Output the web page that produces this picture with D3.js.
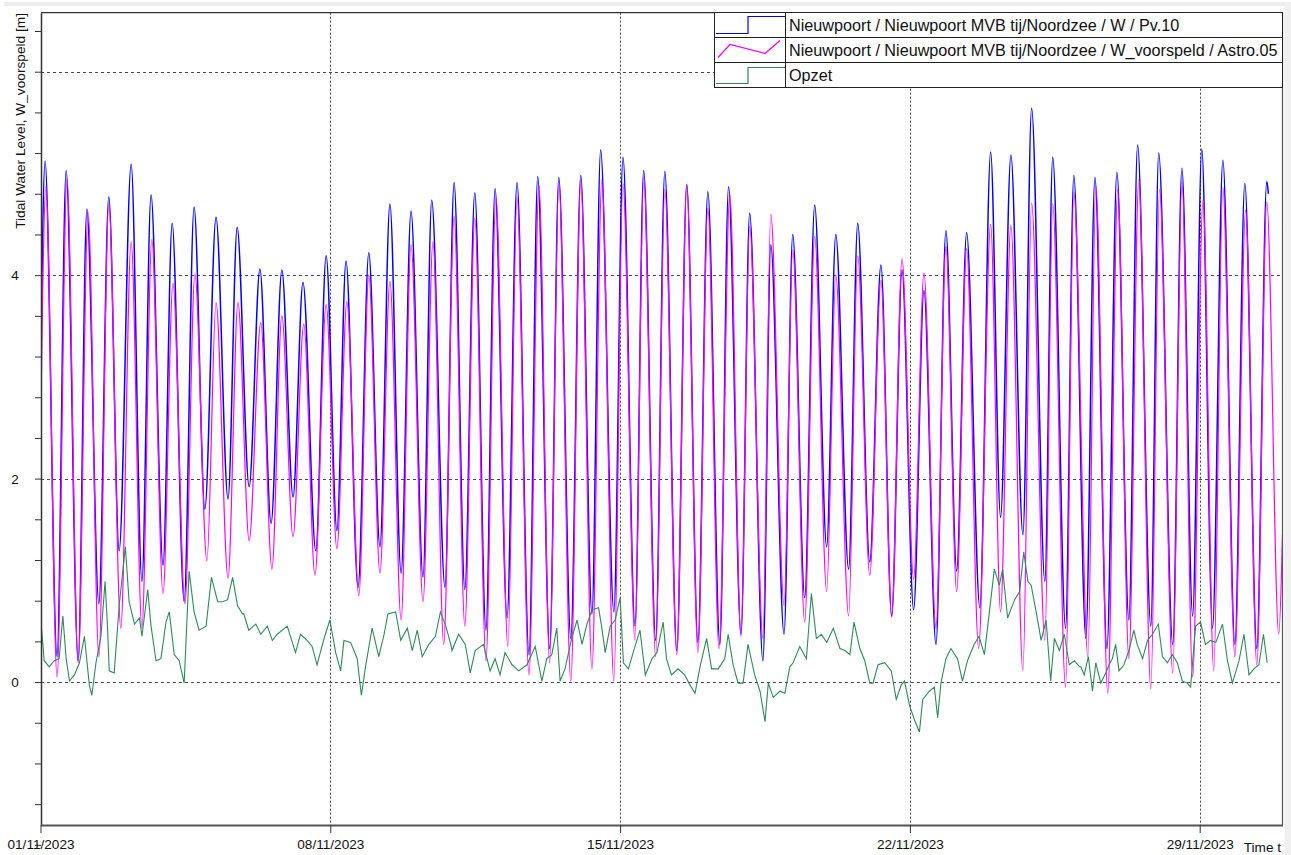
<!DOCTYPE html>
<html>
<head>
<meta charset="utf-8">
<script src="https://cdn.jsdelivr.net/npm/d3@7"></script>
<style>
  html, body { margin: 0; padding: 0; background: #ffffff; }
  svg { display: block; font-family: "Liberation Sans", Arial, sans-serif; }
</style>
</head>
<body>
<svg id="chart" width="1291" height="855"></svg>
<script>
// Time origin of all series (days are counted from this moment, UTC)
const startDate = "2023-11-01T00:00:00Z";
const endDate = "2023-12-01T00:00:00Z";

// Measured water level W (Pv.10): successive high / low waters [days, m]
const wDays = [0.00, 0.11, 0.40, 0.62, 0.91, 1.12, 1.41, 1.65, 1.90, 2.19, 2.45, 2.67, 2.96, 3.18, 3.47, 3.71, 3.97, 4.24, 4.53, 4.75,
  5.04, 5.30, 5.57, 5.83, 6.10, 6.34, 6.65, 6.90, 7.16, 7.38, 7.67, 7.93, 8.20, 8.44, 8.71, 8.95, 9.24, 9.45, 9.77, 9.99,
  10.25, 10.49, 10.76, 10.98, 11.27, 11.51, 11.80, 12.01, 12.30, 12.52, 12.81, 13.05, 13.32, 13.53, 13.85, 14.07, 14.36, 14.57, 14.86, 15.08,
  15.37, 15.61, 15.88, 16.12, 16.41, 16.62, 16.92, 17.13, 17.45, 17.64, 17.96, 18.17, 18.46, 18.70, 18.99, 19.21, 19.52, 19.74, 20.03, 20.30,
  20.56, 20.81, 21.09, 21.34, 21.63, 21.87, 22.13, 22.37, 22.69, 22.95, 23.19, 23.44, 23.73, 23.94, 24.26, 24.45, 24.76, 24.96, 25.25, 25.47,
  25.76, 26.00, 26.29, 26.50, 26.82, 27.01, 27.35, 27.57, 27.83, 28.05, 28.31, 28.56, 28.85, 29.09, 29.38, 29.62, 29.66];
const wLevels = [2.90, 5.12, 0.25, 5.03, 0.21, 4.65, 0.77, 4.77, 1.29, 5.09, 0.99, 4.79, 1.15, 4.51, 0.79, 4.67, 1.70, 4.57, 1.80, 4.47,
  1.92, 4.06, 1.56, 4.05, 1.82, 3.93, 1.29, 4.19, 1.49, 4.14, 0.93, 4.22, 1.33, 4.70, 1.07, 4.63, 1.03, 4.74, 0.93, 4.91,
  0.91, 4.81, 0.51, 4.85, 0.63, 4.91, 0.27, 4.97, 0.33, 4.96, 0.43, 4.98, 0.67, 5.23, 0.69, 5.16, 0.55, 5.03, 0.41, 5.02,
  0.31, 4.89, 0.39, 4.82, 0.37, 4.87, 0.47, 4.61, 0.21, 4.30, 0.47, 4.40, 0.83, 4.69, 1.33, 4.40, 1.11, 4.51, 1.18, 4.10,
  0.65, 4.05, 0.71, 3.85, 0.37, 4.44, 1.09, 4.42, 0.73, 5.21, 1.62, 5.18, 1.45, 5.64, 0.99, 5.16, 0.53, 4.98, 0.43, 4.96,
  0.33, 5.01, 0.61, 5.28, 0.55, 5.20, 0.37, 5.05, 0.65, 5.24, 0.53, 5.13, 0.37, 4.90, 0.33, 4.92, 4.80];

// Predicted astronomical tide W_voorspeld (Astro.05): high / low waters [days, m]
const astroDays = [0.00, 0.13, 0.40, 0.64, 0.91, 1.15, 1.41, 1.65, 1.94, 2.19, 2.45, 2.69, 2.96, 3.20, 3.49, 3.73, 4.02, 4.24, 4.53, 4.77,
  5.04, 5.32, 5.59, 5.83, 6.10, 6.36, 6.63, 6.90, 7.16, 7.40, 7.69, 7.93, 8.20, 8.44, 8.71, 8.95, 9.24, 9.48, 9.74, 9.99,
  10.25, 10.49, 10.76, 11.00, 11.29, 11.51, 11.80, 12.04, 12.30, 12.52, 12.81, 13.05, 13.32, 13.56, 13.85, 14.07, 14.36, 14.57, 14.86, 15.08,
  15.37, 15.61, 15.88, 16.12, 16.39, 16.65, 16.92, 17.13, 17.45, 17.64, 17.96, 18.17, 18.46, 18.70, 18.99, 19.21, 19.52, 19.74, 20.03, 20.30,
  20.56, 20.81, 21.09, 21.34, 21.63, 21.87, 22.13, 22.37, 22.66, 22.95, 23.19, 23.44, 23.73, 23.94, 24.26, 24.45, 24.76, 24.96, 25.30, 25.49,
  25.78, 26.02, 26.29, 26.53, 26.82, 27.03, 27.35, 27.57, 27.83, 28.08, 28.34, 28.56, 28.85, 29.11, 29.38, 29.62, 29.91, 30.00];
const astroLevels = [2.40, 4.87, 0.05, 4.94, 0.19, 4.62, 0.25, 4.70, 0.53, 4.33, 0.53, 4.35, 0.87, 3.92, 0.77, 4.01, 1.19, 3.73, 1.02, 3.73,
  1.39, 3.53, 1.11, 3.60, 1.43, 3.52, 1.05, 3.71, 1.31, 3.74, 0.85, 4.00, 1.07, 3.94, 0.61, 4.30, 0.79, 4.33, 0.37, 4.58,
  0.55, 4.56, 0.21, 4.76, 0.35, 4.77, 0.07, 4.88, 0.19, 4.91, 0.01, 4.93, 0.13, 4.94, 0.01, 4.90, 0.41, 4.96, 0.25, 4.84,
  0.27, 4.89, 0.29, 4.66, 0.33, 4.80, 0.45, 4.48, 0.43, 4.60, 0.75, 4.25, 0.59, 4.38, 0.89, 4.00, 0.65, 4.19, 1.05, 3.95,
  0.64, 4.16, 1.01, 4.02, 0.53, 4.28, 0.89, 4.26, 0.33, 4.50, 0.69, 4.49, 0.11, 4.71, 0.41, 4.70, -0.05, 4.82, 0.25, 4.88,
  -0.11, 4.84, 0.23, 4.94, -0.07, 4.84, 0.09, 4.92, 0.05, 4.74, 0.11, 4.86, 0.25, 4.64, 0.17, 4.72, 0.47, 1.45];

// Surge (Opzet) [days, m]
const opzetDays = [0.01, 0.09, 0.21, 0.33, 0.45, 0.54, 0.62, 0.70, 0.82, 0.94, 1.06, 1.18, 1.24, 1.34, 1.46, 1.56, 1.62, 1.66, 1.78, 1.90,
  2.05, 2.14, 2.27, 2.39, 2.45, 2.59, 2.67, 2.79, 2.91, 3.03, 3.11, 3.23, 3.35, 3.47, 3.59, 3.71, 3.83, 4.00, 4.13, 4.28,
  4.40, 4.52, 4.64, 4.76, 4.88, 4.91, 5.03, 5.20, 5.32, 5.48, 5.60, 5.72, 5.96, 6.16, 6.28, 6.44, 6.56, 6.68, 6.85, 6.99,
  7.13, 7.25, 7.33, 7.49, 7.65, 7.75, 7.85, 8.01, 8.17, 8.30, 8.39, 8.58, 8.70, 8.86, 8.98, 9.10, 9.22, 9.38, 9.54, 9.66,
  9.79, 9.91, 9.94, 10.10, 10.26, 10.38, 10.50, 10.70, 10.86, 10.98, 11.10, 11.22, 11.39, 11.55, 11.75, 11.95, 12.11, 12.23, 12.35, 12.47,
  12.55, 12.67, 12.83, 12.96, 13.08, 13.20, 13.32, 13.48, 13.56, 13.64, 13.76, 13.88, 14.00, 14.08, 14.20, 14.36, 14.48, 14.61, 14.77, 14.89,
  15.04, 15.12, 15.24, 15.40, 15.56, 15.69, 15.81, 15.93, 16.09, 16.21, 16.37, 16.53, 16.61, 16.73, 16.85, 16.97, 17.09, 17.25, 17.38, 17.50,
  17.58, 17.70, 17.86, 17.98, 18.10, 18.18, 18.34, 18.50, 18.62, 18.74, 18.86, 18.99, 19.15, 19.31, 19.43, 19.55, 19.65, 19.79, 19.91, 20.03,
  20.11, 20.23, 20.39, 20.55, 20.67, 20.79, 20.87, 20.99, 21.11, 21.23, 21.31, 21.47, 21.59, 21.67, 21.75, 21.87, 21.99, 22.15, 22.27, 22.39,
  22.55, 22.67, 22.80, 22.92, 23.04, 23.16, 23.24, 23.36, 23.53, 23.65, 23.75, 23.85, 23.93, 24.05, 24.17, 24.29, 24.40, 24.49, 24.61, 24.73,
  24.85, 24.97, 25.10, 25.13, 25.21, 25.31, 25.41, 25.49, 25.61, 25.73, 25.81, 25.89, 25.97, 26.05, 26.17, 26.29, 26.41, 26.49, 26.62, 26.74,
  26.86, 27.00, 27.10, 27.22, 27.34, 27.46, 27.58, 27.70, 27.78, 27.90, 28.02, 28.14, 28.26, 28.39, 28.55, 28.67, 28.79, 28.95, 29.07, 29.19,
  29.31, 29.43, 29.54, 29.63];
const opzetLevels = [0.59, 0.21, 0.15, 0.21, 0.23, 0.65, 0.23, 0.01, 0.07, 0.19, 0.45, -0.03, -0.13, 0.19, 0.45, 0.99, 0.53, 0.11, 0.09, 0.75,
  1.33, 0.79, 0.57, 0.63, 0.45, 0.91, 0.55, 0.21, 0.23, 0.59, 0.69, 0.27, 0.21, -0.01, 1.09, 0.69, 0.51, 0.55, 1.03, 0.79,
  0.79, 0.81, 1.03, 0.75, 0.67, 0.67, 0.51, 0.57, 0.47, 0.55, 0.41, 0.47, 0.55, 0.29, 0.47, 0.41, 0.35, 0.17, 0.43, 0.61,
  0.29, 0.11, 0.41, 0.39, 0.23, -0.13, 0.15, 0.53, 0.25, 0.47, 0.67, 0.69, 0.41, 0.53, 0.31, 0.51, 0.25, 0.37, 0.45, 0.69,
  0.55, 0.37, 0.31, 0.47, 0.37, 0.09, 0.31, 0.37, 0.11, 0.23, 0.07, 0.29, 0.17, 0.11, 0.17, 0.35, 0.01, 0.23, 0.27, 0.53,
  0.01, 0.13, 0.43, 0.61, 0.37, 0.57, 0.71, 0.73, 0.53, 0.29, 0.55, 0.61, 0.83, 0.19, 0.13, 0.35, 0.51, 0.07, 0.23, 0.29,
  0.59, 0.23, 0.07, 0.13, 0.07, -0.03, -0.11, 0.15, 0.43, 0.13, 0.13, 0.23, 0.47, 0.17, -0.01, -0.01, 0.37, 0.07, -0.09, -0.39,
  -0.01, -0.15, -0.09, -0.11, 0.15, 0.19, 0.35, 0.23, 0.87, 0.43, 0.47, 0.39, 0.53, 0.33, 0.31, 0.27, 0.59, 0.33, 0.21, -0.01,
  -0.01, 0.17, 0.19, 0.11, -0.17, -0.03, 0.01, -0.23, -0.37, -0.49, -0.17, -0.09, -0.05, -0.35, -0.01, 0.23, 0.33, 0.23, 0.01, 0.21,
  0.37, 0.45, 0.27, 0.69, 1.11, 0.95, 1.11, 0.63, 0.81, 0.89, 1.28, 0.99, 0.95, 0.69, 0.41, 0.61, 0.01, 0.43, 0.31, 0.47,
  0.17, 0.21, 0.15, 0.15, 0.07, 0.25, -0.09, 0.19, -0.01, 0.09, 0.17, 0.23, 0.37, 0.11, 0.17, 0.31, 0.51, 0.37, 0.23, 0.41,
  0.47, 0.57, 0.25, 0.19, 0.27, 0.19, 0.01, -0.01, -0.05, 0.55, 0.59, 0.37, 0.41, 0.39, 0.57, 0.21, -0.01, 0.21, 0.47, 0.07,
  0.13, 0.17, 0.47, 0.19];

// Axis labelling
const yLabelValues = [0, 2, 4];
const yGridValues = [0, 2, 4, 6];
const xTickLabels = ["01/11/2023", "08/11/2023", "15/11/2023", "22/11/2023", "29/11/2023"];
const yAxisTitle = "Tidal Water Level, W_voorspeld [m]";
const xAxisTitle = "Time t";

// Legend entries
const seriesNames = [
  "Nieuwpoort / Nieuwpoort MVB tij/Noordzee / W / Pv.10",
  "Nieuwpoort / Nieuwpoort MVB tij/Noordzee / W_voorspeld / Astro.05",
  "Opzet"
];
const seriesColors = ["#0000ff", "#ff00ff", "#2e8b57"];

// ---- layout ----
const plot = { left: 41, right: 1282.5, top: 12.7, bottom: 825 };
const DAY = 86400000;
const t0 = new Date(startDate).getTime();
const toDate = d => new Date(t0 + d * DAY);

const svg = d3.select("#chart");

const x = d3.scaleUtc()
  .domain([new Date(startDate), new Date(endDate)])
  .range([40.5, plot.right]);
const y = d3.scaleLinear()
  .domain([-1.405, 6.58])
  .range([plot.bottom, plot.top]);

// window frame strips
svg.append("rect").attr("x", 4).attr("y", 2).attr("width", 1287).attr("height", 4).attr("fill", "#ededed");
svg.append("rect").attr("x", 1284.5).attr("y", 2).attr("width", 7).attr("height", 853).attr("fill", "#f0f0f0");

svg.append("defs").append("clipPath").attr("id", "plotClip")
  .append("rect")
  .attr("x", plot.left).attr("y", plot.top)
  .attr("width", plot.right - plot.left).attr("height", plot.bottom - plot.top);

// grid
const weekTicks = xTickLabels.map(s => {
  const [dd, mm, yy] = s.split("/").map(Number);
  return new Date(Date.UTC(yy, mm - 1, dd));
});
svg.append("g").selectAll("line").data(yGridValues).join("line")
  .attr("x1", plot.left).attr("x2", plot.right)
  .attr("y1", d => Math.round(y(d)) + 0.5).attr("y2", d => Math.round(y(d)) + 0.5)
  .attr("stroke", "#4a4a4a").attr("stroke-width", 1).attr("stroke-dasharray", "3,3");
svg.append("g").selectAll("line").data(weekTicks.slice(1)).join("line")
  .attr("x1", d => Math.round(x(d)) + 0.5).attr("x2", d => Math.round(x(d)) + 0.5)
  .attr("y1", plot.top).attr("y2", plot.bottom)
  .attr("stroke", "#4a4a4a").attr("stroke-width", 1).attr("stroke-dasharray", "2,2");

// series
const tideLine = d3.line()
  .x(d => x(toDate(d[0])))
  .y(d => y(d[1]))
  .curve(d3.curveMonotoneX);
const surgeLine = d3.line()
  .x(d => x(toDate(d[0])))
  .y(d => y(d[1]))
  .curve(d3.curveLinear);

const lines = svg.append("g").attr("clip-path", "url(#plotClip)");
lines.append("path")
  .datum(d3.zip(wDays, wLevels))
  .attr("fill", "none").attr("stroke", seriesColors[0]).attr("stroke-width", 1.5)
  .attr("d", tideLine);
lines.append("path")
  .datum(d3.zip(astroDays, astroLevels))
  .attr("fill", "none").attr("stroke", seriesColors[1]).attr("stroke-width", 1.2)
  .attr("d", tideLine);
lines.append("path")
  .datum(d3.zip(opzetDays, opzetLevels))
  .attr("fill", "none").attr("stroke", seriesColors[2]).attr("stroke-width", 1.1)
  .attr("d", surgeLine);

// frame
svg.append("line").attr("x1", plot.left).attr("x2", plot.right + 0.5)
  .attr("y1", plot.top).attr("y2", plot.top).attr("stroke", "#333").attr("stroke-width", 1.3);
svg.append("line").attr("x1", plot.right).attr("x2", plot.right)
  .attr("y1", plot.top).attr("y2", plot.bottom).attr("stroke", "#555").attr("stroke-width", 1.2);

// y axis
const yMinor = d3.range(-6, 17).map(i => i * 0.4);
const yAxis = d3.axisLeft(y)
  .tickValues(yMinor)
  .tickSize(6)
  .tickSizeOuter(0)
  .tickFormat("");
const gy = svg.append("g").attr("transform", `translate(${plot.left},0)`).call(yAxis);
gy.select(".domain").attr("stroke", "#333").attr("stroke-width", 1.5);
gy.selectAll(".tick line").attr("stroke", "#333");
svg.append("g").selectAll("text").data(yLabelValues).join("text")
  .attr("x", 15).attr("y", d => y(d) + 5)
  .attr("text-anchor", "middle")
  .attr("font-size", 13.5).attr("fill", "#111")
  .text(d => d3.format("d")(d));

svg.append("text")
  .attr("transform", `translate(25,13) rotate(-90)`)
  .attr("text-anchor", "end")
  .attr("font-size", 13.7).attr("fill", "#111")
  .text(yAxisTitle);

// x axis
const xAxis = d3.axisBottom(x)
  .tickValues(weekTicks)
  .tickSize(8)
  .tickSizeOuter(0)
  .tickFormat((d, i) => xTickLabels[i]);
const gx = svg.append("g").attr("transform", `translate(0,${plot.bottom})`).call(xAxis);
gx.select(".domain").attr("stroke", "#555").attr("stroke-width", 2);
gx.selectAll(".tick line").attr("stroke", "#333");
gx.selectAll(".tick text")
  .attr("y", 14).attr("dy", "0.71em")
  .attr("font-size", 13.6).attr("fill", "#111")
  .attr("font-family", "'Liberation Sans', Arial, sans-serif");

svg.append("text")
  .attr("x", 1281).attr("y", 852)
  .attr("text-anchor", "end")
  .attr("font-size", 13.6).attr("fill", "#111")
  .text(xAxisTitle);

// legend
const leg = { left: 714, right: 1282.5, top: 12.5, rowH: 25, symW: 71 };
const lg = svg.append("g");
lg.append("rect")
  .attr("x", leg.left + 0.5).attr("y", leg.top)
  .attr("width", leg.right - leg.left - 0.5).attr("height", leg.rowH * seriesNames.length)
  .attr("fill", "#fff").attr("stroke", "#222").attr("stroke-width", 1);
lg.selectAll("line.row").data(d3.range(1, seriesNames.length)).join("line")
  .attr("class", "row")
  .attr("x1", leg.left).attr("x2", leg.right)
  .attr("y1", i => leg.top + i * leg.rowH).attr("y2", i => leg.top + i * leg.rowH)
  .attr("stroke", "#222").attr("stroke-width", 1);
lg.append("line")
  .attr("x1", leg.left + leg.symW + 0.5).attr("x2", leg.left + leg.symW + 0.5)
  .attr("y1", leg.top).attr("y2", leg.top + leg.rowH * seriesNames.length)
  .attr("stroke", "#222").attr("stroke-width", 1);

// symbols: step for W and Opzet, zig-zag for the prediction
const sx = leg.left, sw = leg.symW;
const symbolPaths = [
  r => `M${sx + 2},${r + 21} H${sx + 34} V${r + 4} H${sx + sw}`,
  r => `M${sx + 4},${r + 20} L${sx + 16},${r + 7} L${sx + 51},${r + 16} L${sx + 66},${r + 3}`,
  r => `M${sx + 2},${r + 21} H${sx + 34} V${r + 5} H${sx + sw}`
];
seriesNames.forEach((name, i) => {
  const r = leg.top + i * leg.rowH;
  lg.append("path").attr("d", symbolPaths[i](r))
    .attr("fill", "none").attr("stroke", seriesColors[i]).attr("stroke-width", 1.2);
  lg.append("text")
    .attr("x", leg.left + leg.symW + 4).attr("y", r + 18.5)
    .attr("font-size", 16.2).attr("fill", "#111")
    .text(name);
});
</script>
</body>
</html>
